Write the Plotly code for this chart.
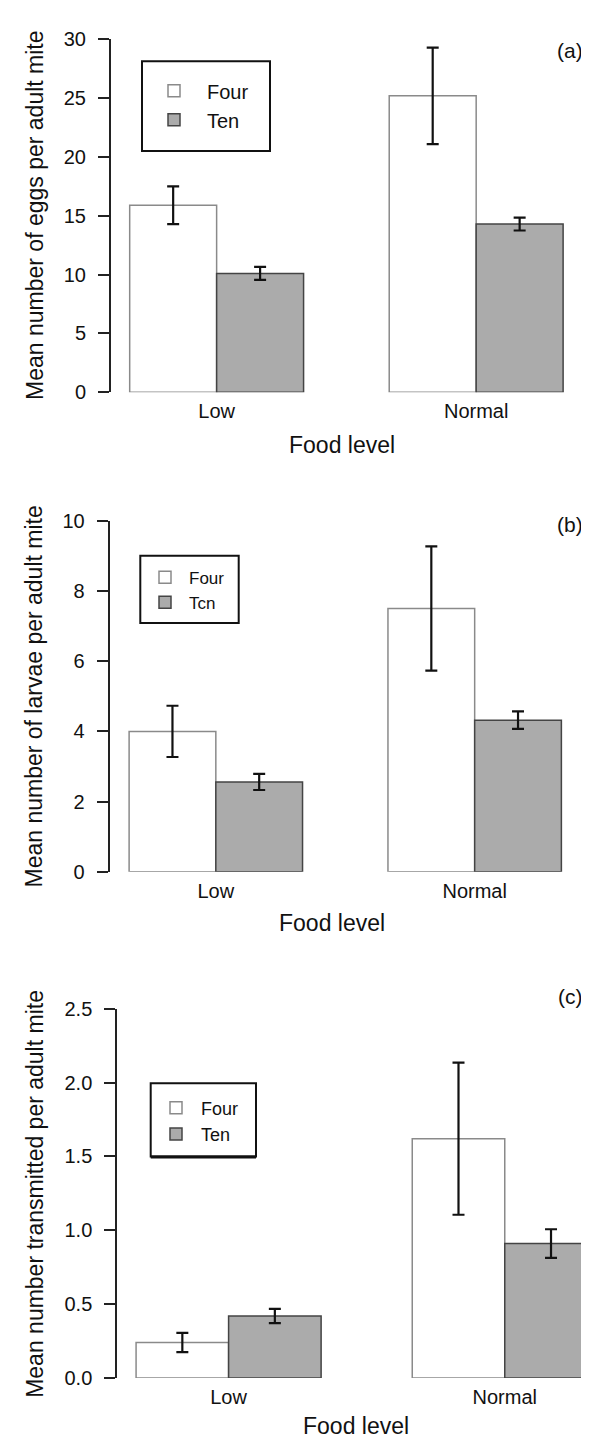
import plotly.graph_objects as go

W, H = 589, 1445

categories = ["Low", "Normal"]
series_names = ["Four", "Ten"]
legend_names_b = ["Four", "Tcn"]

# Panel (a): eggs
eggs_four = [15.9, 25.2]
eggs_four_err = [1.6, 4.1]
eggs_ten = [10.1, 14.3]
eggs_ten_err = [0.55, 0.55]

# Panel (b): larvae
larvae_four = [4.0, 7.5]
larvae_four_err = [0.73, 1.77]
larvae_ten = [2.56, 4.32]
larvae_ten_err = [0.23, 0.25]

# Panel (c): transmitted
trans_four = [0.24, 1.62]
trans_four_err = [0.065, 0.515]
trans_ten = [0.42, 0.91]
trans_ten_err = [0.048, 0.097]

y_ticks_a = [0, 5, 10, 15, 20, 25, 30]
y_ticks_b = [0, 2, 4, 6, 8, 10]
y_ticks_c = [0.0, 0.5, 1.0, 1.5, 2.0, 2.5]
y_ticktext_c = ["0.0", "0.5", "1.0", "1.5", "2.0", "2.5"]

y_titles = ["Mean number of eggs per adult mite",
            "Mean number of larvae per adult mite",
            "Mean number transmitted per adult mite"]
x_title = "Food level"
panel_tags = ["(a)", "(b)", "(c)"]

FONT = "Liberation Sans, Arial, sans-serif"
FOUR_FILL = "white"
FOUR_LINE = "#8a8a8a"
TEN_FILL = "#ababab"
TEN_LINE = "#444444"

def px(x):
    return x / W

def py(y):
    return 1 - y / H

fig = go.Figure()

panels = [
    (eggs_four, eggs_four_err, eggs_ten, eggs_ten_err, series_names, "legend"),
    (larvae_four, larvae_four_err, larvae_ten, larvae_ten_err, legend_names_b, "legend2"),
    (trans_four, trans_four_err, trans_ten, trans_ten_err, series_names, "legend3"),
]

for i, (f, fe, t, te, names, leg) in enumerate(panels):
    xa = "x" if i == 0 else f"x{i+1}"
    ya = "y" if i == 0 else f"y{i+1}"
    fig.add_trace(go.Bar(
        x=categories, y=f, name=names[0], xaxis=xa, yaxis=ya, legend=leg,
        marker=dict(color=FOUR_FILL, line=dict(color=FOUR_LINE, width=1.5)),
        error_y=dict(type="data", array=fe, color="#111111", thickness=2.2, width=6),
        offsetgroup="four",
    ))
    fig.add_trace(go.Bar(
        x=categories, y=t, name=names[1], xaxis=xa, yaxis=ya, legend=leg,
        marker=dict(color=TEN_FILL, line=dict(color=TEN_LINE, width=1.5)),
        error_y=dict(type="data", array=te, color="#111111", thickness=2.2, width=6),
        offsetgroup="ten",
    ))

# geometry (pixels) per panel: axis x, right edge, top, bottom, x-range
geo = [
    dict(ax=103, right=573.8, top=20.7, bot=379, xr=[-0.407, 1.407], yr=[0, 30],
         ticks=y_ticks_a, ticktext=[str(v) for v in y_ticks_a]),
    dict(ax=101.7, right=572.8, top=509.5, bot=866, xr=[-0.41, 1.41], yr=[0, 10],
         ticks=y_ticks_b, ticktext=[str(v) for v in y_ticks_b]),
    dict(ax=109.3, right=589, top=1005, bot=1380, xr=[-0.403, 1.334], yr=[0, 2.5],
         ticks=y_ticks_c, ticktext=y_ticktext_c),
]

layout = dict(
    width=W, height=H, autosize=False,
    margin=dict(l=0, r=0, t=0, b=0),
    paper_bgcolor="white", plot_bgcolor="white",
    barmode="group", bargap=0.33, bargroupgap=0,
    font=dict(family=FONT, color="#111111"),
    showlegend=True,
)

for i, g in enumerate(geo):
    xk = "xaxis" if i == 0 else f"xaxis{i+1}"
    yk = "yaxis" if i == 0 else f"yaxis{i+1}"
    ya = "y" if i == 0 else f"y{i+1}"
    xa = "x" if i == 0 else f"x{i+1}"
    layout[xk] = dict(
        domain=[px(g["ax"]), px(g["right"])], anchor=ya, range=g["xr"],
        showline=False, showgrid=False, zeroline=False, ticks="",
        tickfont=dict(size=20, color="#111111"), ticklabelstandoff=5,
        fixedrange=True,
    )
    layout[yk] = dict(
        domain=[py(g["bot"]), py(g["top"])], anchor=xa, range=g["yr"],
        showline=True, linecolor="#222222", linewidth=2,
        ticks="outside", ticklen=11, tickwidth=2, tickcolor="#222222",
        tickvals=g["ticks"], ticktext=g["ticktext"],
        tickfont=dict(size=20, color="#111111"), ticklabelstandoff=8,
        showgrid=False, zeroline=False, fixedrange=True,
    )

# legends
leg_specs = [
    dict(key="legend", x=133, y=53, size=20, iw=56),
    dict(key="legend2", x=133, y=549, size=17, iw=38),
    dict(key="legend3", x=143, y=1087, size=18, iw=40),
]
for s in leg_specs:
    layout[s["key"]] = dict(
        x=px(s["x"]), y=py(s["y"]), xanchor="left", yanchor="top",
        bgcolor="rgba(0,0,0,0)", borderwidth=0,
        font=dict(size=s["size"], family=FONT, color="#111111"),
        itemwidth=s["iw"], tracegroupgap=0, traceorder="normal",
    )

fig.update_layout(**layout)

# legend frames
frames = [(134, 43, 262, 134), (132.3, 545, 230.7, 613.3), (142.7, 1080.7, 248, 1155)]
for (x0, y0, x1, y1) in frames:
    fig.add_shape(type="rect", xref="paper", yref="paper",
                  x0=px(x0), x1=px(x1), y0=py(y0), y1=py(y1),
                  line=dict(color="#111111", width=2), fillcolor="rgba(0,0,0,0)")
fig.add_shape(type="line", xref="paper", yref="paper",
              x0=px(142.7), x1=px(248), y0=py(1155.5), y1=py(1155.5),
              line=dict(color="#111111", width=3))

# titles and panel tags
xt_pos = [(334, 433), (324, 918), (348, 1429)]
yt_pos = [(27, 200), (26, 688), (27, 1193)]
tag_pos = [(562, 32), (562, 513), (562, 993)]
for i in range(3):
    fig.add_annotation(text=x_title, xref="paper", yref="paper",
                       x=px(xt_pos[i][0]), y=py(xt_pos[i][1]), showarrow=False,
                       xanchor="center", yanchor="middle",
                       font=dict(size=23, family=FONT, color="#111111"))
    fig.add_annotation(text=y_titles[i], xref="paper", yref="paper",
                       x=px(yt_pos[i][0]), y=py(yt_pos[i][1]), showarrow=False,
                       textangle=-90, xanchor="center", yanchor="middle",
                       font=dict(size=23, family=FONT, color="#111111"))
    fig.add_annotation(text=panel_tags[i], xref="paper", yref="paper",
                       x=px(tag_pos[i][0]), y=py(tag_pos[i][1]), showarrow=False,
                       xanchor="center", yanchor="middle",
                       font=dict(size=21, family=FONT, color="#111111"))

fig.write_html("out.html", config={"displayModeBar": False})
